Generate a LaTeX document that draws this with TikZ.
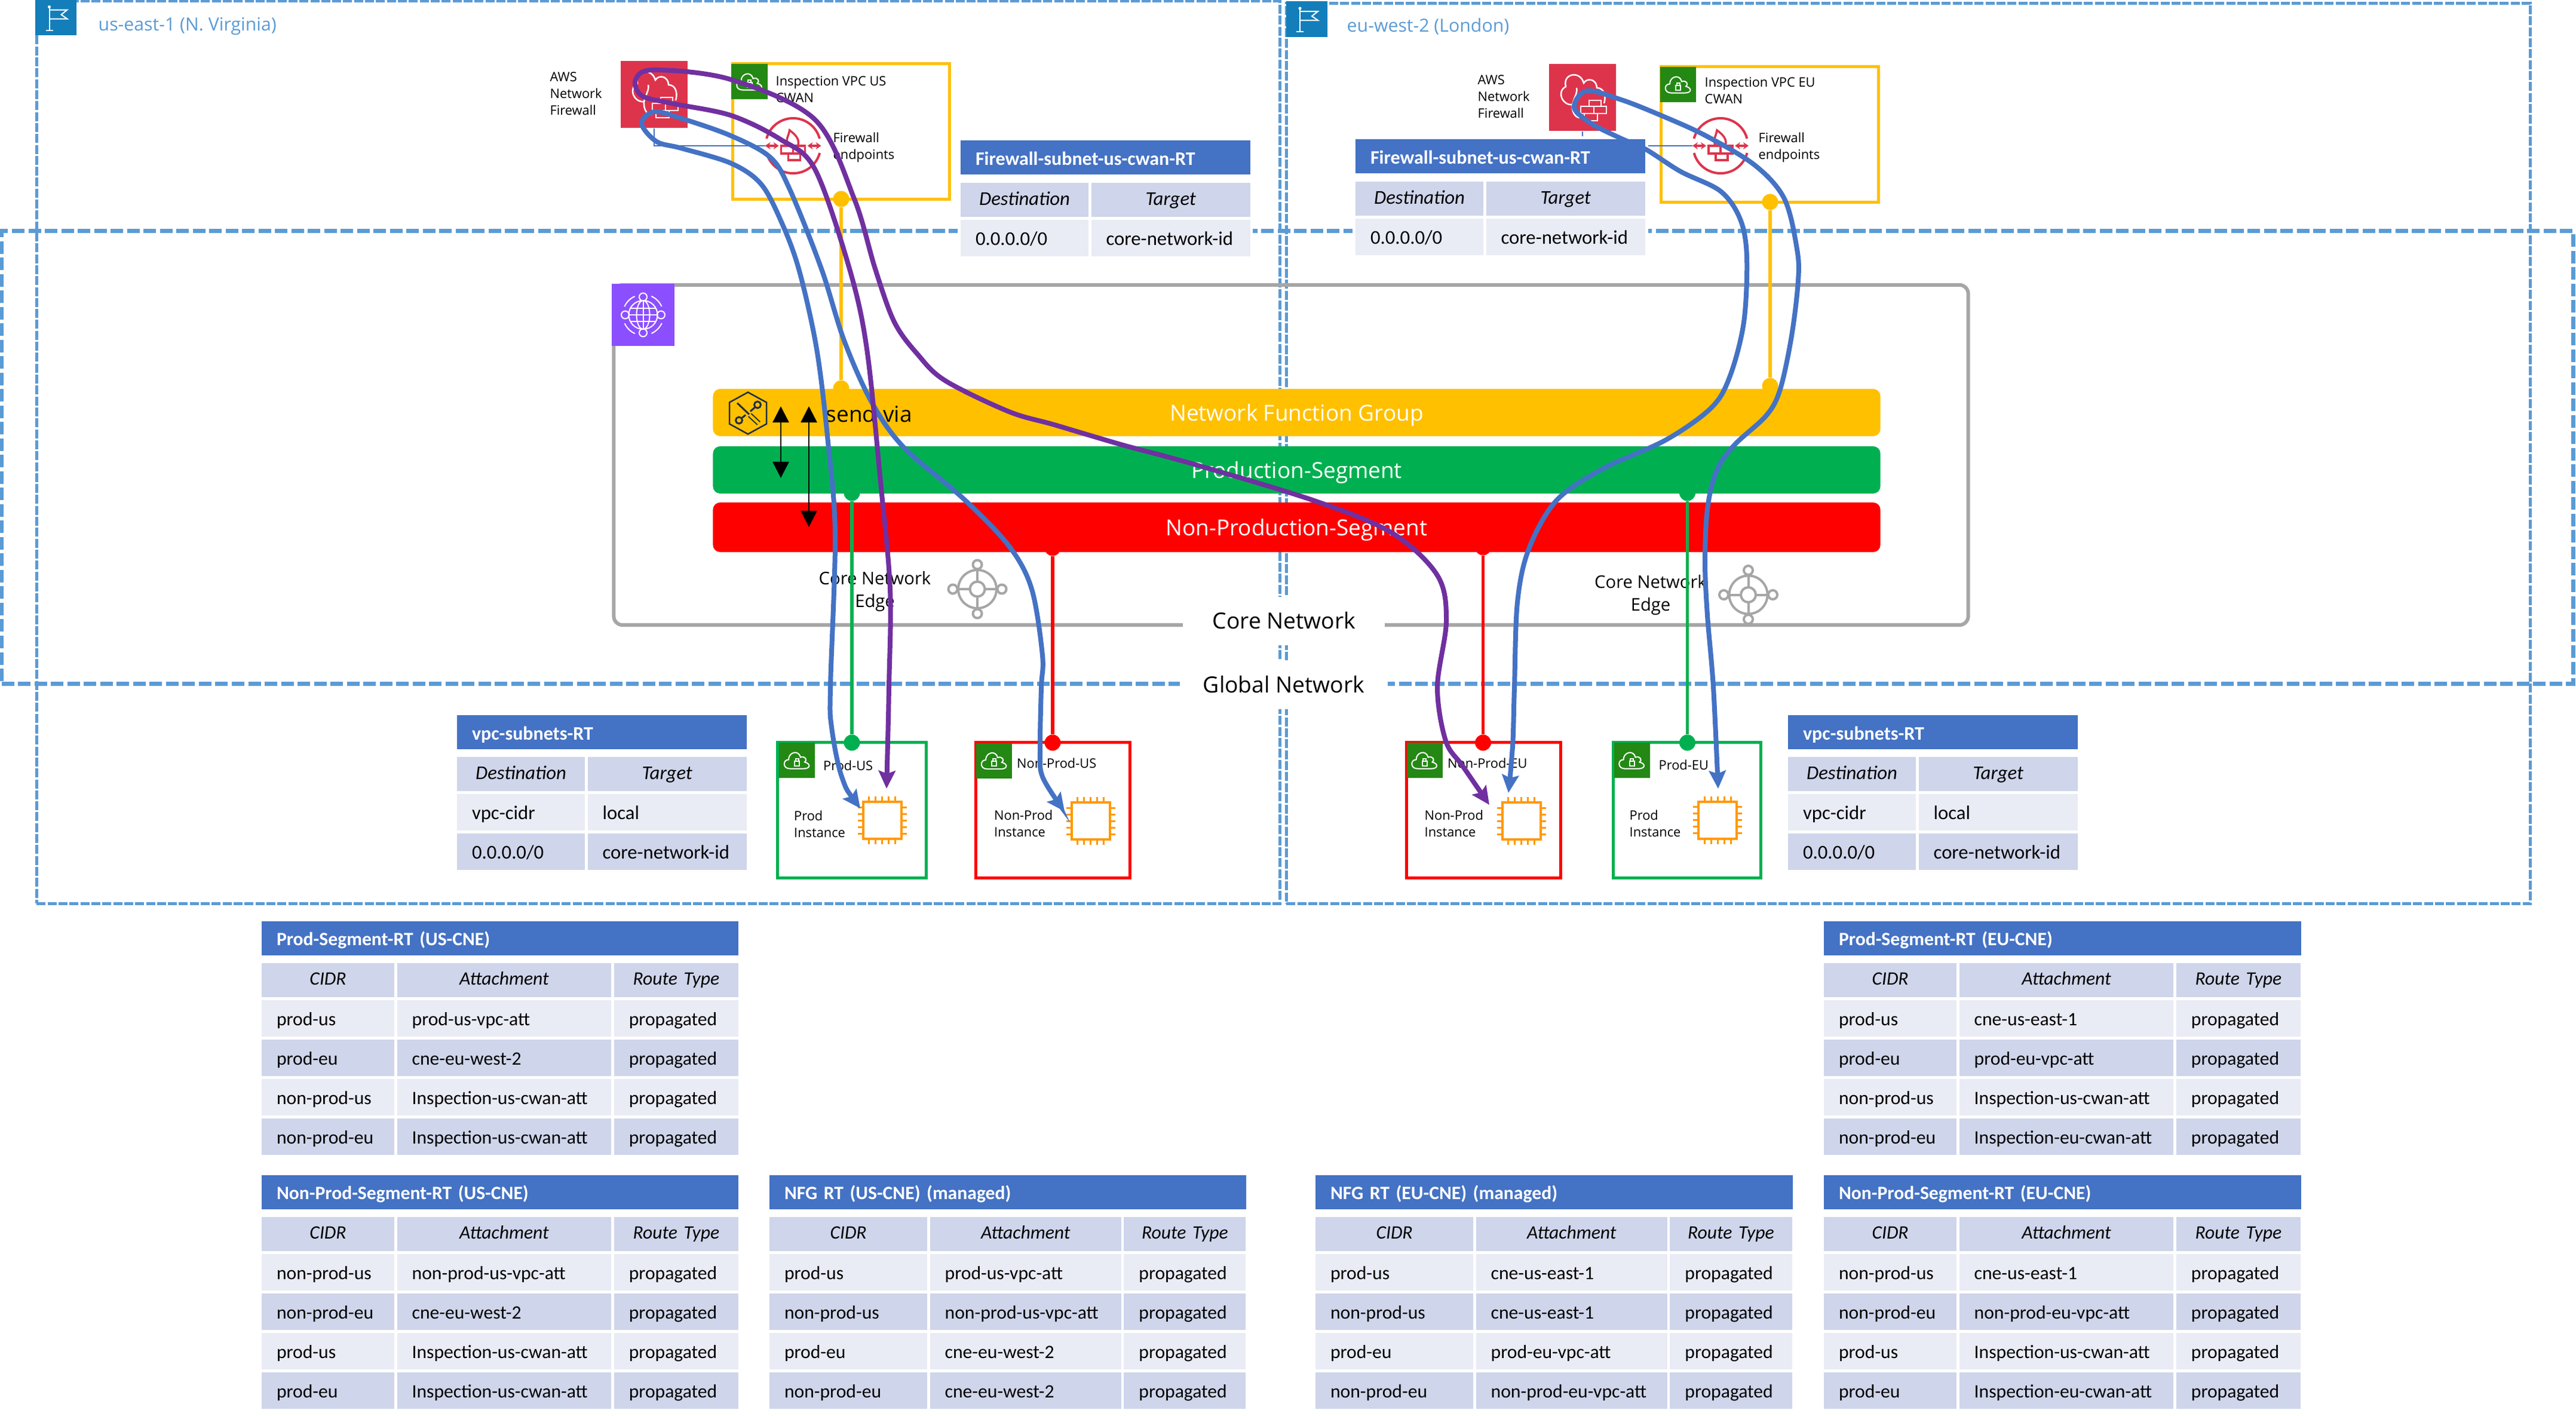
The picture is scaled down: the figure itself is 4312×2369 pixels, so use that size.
\documentclass[tikz,border=0pt]{standalone}
\usepackage{fontspec}
\setmainfont{Carlito}
\newfontfamily\awsfont{Open Sans}
\usetikzlibrary{positioning,arrows.meta}
\definecolor{dashblue}{HTML}{5B9BD5}
\definecolor{flagblue}{HTML}{147EBA}
\definecolor{fwred}{HTML}{DD344C}
\definecolor{tagreen}{HTML}{248814}
\definecolor{cwanpurple}{HTML}{8C4FFF}
\definecolor{coregray}{HTML}{A6A6A6}
\definecolor{nfgyellow}{HTML}{FFC000}
\definecolor{prodgreen}{HTML}{00B050}
\definecolor{nonprodred}{HTML}{FF0000}
\definecolor{chiporange}{HTML}{FF9900}
\definecolor{toolnavy}{HTML}{232F3E}
\definecolor{titleblue}{HTML}{4472C4}
\definecolor{rowdark}{HTML}{CFD5EA}
\definecolor{rowlight}{HTML}{E9EBF5}
\definecolor{routepurple}{HTML}{7030A0}
\tikzset{
	flagicon/.pic={
		\draw [white, line width=0.02cm] (-11,-17) -- (-11,21) (-17,21) -- (-5,21);
		\draw [white, line width=0.02cm] (-11,-13) -- (19,-13) -- (9,-5) -- (19,2) -- (-11,2);
		\fill [white] (-11,-18) circle [radius=0.025cm];
	},
	cloudlock/.pic={
		\draw [white, line width=0.02cm] (-12,14) .. controls (-24,14) and (-24,-1) .. (-14,-1) .. controls (-14,-14) and (3,-18) .. (6,-5) .. controls (14,-8) and (18,0) .. (13,3) .. controls (24,6) and (22,14) .. (12,14) -- cycle;
		\draw [white, line width=0.02cm] (-4,1) rectangle (4,9) (-2.5,1) -- (-2.5,-3) -- (2.5,-3) -- (2.5,1);
	},
	fwicon/.pic={
		\draw [white, line width=0.025cm] (-4,34) .. controls (-14,34) and (-18,22) .. (-17,12) .. controls (-34,14) and (-44,-10) .. (-28,-18) .. controls (-34,-40) and (-4,-46) .. (2,-24) .. controls (8,-34) and (24,-30) .. (24,-16) .. controls (36,-16) and (40,-2) .. (36,10);
		\draw [white, line width=0.025cm] (-17,12) .. controls (-14,0) and (-8,-8) .. (-10,-16);
		\draw [white, line width=0.025cm] (-3,15) rectangle (40,27) (19,15) -- (19,27) (11,5) rectangle (31,15) (3,27) rectangle (25,39);
	},
	endpointicon/.pic={
		\draw [fwred, line width=0.04cm] (44.4,-12) arc [start angle=15, end angle=165, radius=0.46cm];
		\draw [fwred, line width=0.04cm] (-44.4,12) arc [start angle=195, end angle=345, radius=0.46cm];
		\draw [fwred, line width=0.035cm, {Stealth[length=0.09cm,width=0.12cm]}-{Stealth[length=0.09cm,width=0.12cm]}] (-47,0) -- (-24,0);
		\draw [fwred, line width=0.035cm, {Stealth[length=0.09cm,width=0.12cm]}-{Stealth[length=0.09cm,width=0.12cm]}] (24,0) -- (47,0);
		\draw [fwred, line width=0.035cm] (-20,0) rectangle (20,13) (0,0) -- (0,13) (-8,13) rectangle (12,24);
		\draw [fwred, line width=0.035cm] (-8,0) .. controls (-14,-10) and (-8,-14) .. (-6,-26) .. controls (2,-20) and (12,-12) .. (8,0);
	},
	globeicon/.pic={
		\draw [white, line width=0.02cm] (0,0) circle [radius=0.24cm] (0,0) ellipse [x radius=0.11cm, y radius=0.24cm];
		\draw [white, line width=0.02cm] (-24,0) -- (24,0) (-21,-11) -- (21,-11) (-21,11) -- (21,11) (0,-24) -- (0,24);
		\draw [white, line width=0.02cm] (0,-30) circle [radius=0.065cm] (0,30) circle [radius=0.065cm] (-30,0) circle [radius=0.065cm] (30,0) circle [radius=0.065cm];
		\draw [white, line width=0.02cm] (31,-14) arc [start angle=24, end angle=66, radius=0.34cm];
		\draw [white, line width=0.02cm] (-14,-31) arc [start angle=114, end angle=156, radius=0.34cm];
		\draw [white, line width=0.02cm] (-31,14) arc [start angle=204, end angle=246, radius=0.34cm];
		\draw [white, line width=0.02cm] (14,31) arc [start angle=294, end angle=336, radius=0.34cm];
	},
	toolicon/.pic={
		\draw [toolnavy, line width=0.025cm] (0,-35) -- (31,-18) -- (31,18) -- (0,35) -- (-31,18) -- (-31,-18) -- cycle;
		\draw [toolnavy, line width=0.03cm] (-18,-17) -- (2,2);
		\draw [toolnavy, line width=0.02cm, double=nfgyellow, double distance=0.045cm] (3,3) -- (18,17);
		\draw [toolnavy, line width=0.03cm] (12,-10) -- (4,-3) (-4,3) -- (-10,8);
		\draw [toolnavy, line width=0.03cm] (16,-14) circle [radius=0.055cm] (-15,12) circle [radius=0.055cm];
	},
	chipicon/.pic={
		\foreach \k in {-22,-11,0,11,22} {
			\draw [chiporange, line width=0.03cm] (\k,-31) -- (\k,-40) (\k,31) -- (\k,40) (-32,\k) -- (-41,\k) (32,\k) -- (41,\k);
		}
		\draw [chiporange, fill=white, line width=0.04cm] (-32,-31) rectangle (32,31);
	},
	edgeicon/.pic={
		\draw [coregray, line width=0.04cm] (0,0) circle [radius=0.32cm] (0,0) circle [radius=0.125cm];
		\draw [coregray, line width=0.04cm] (0,-12.5) -- (0,-34) (0,12.5) -- (0,34) (-12.5,0) -- (-34,0) (12.5,0) -- (34,0);
		\draw [coregray, line width=0.04cm] (0,-41) circle [radius=0.075cm] (0,41) circle [radius=0.075cm] (-41,0) circle [radius=0.075cm] (41,0) circle [radius=0.075cm];
	}
}
\begin{document}
\begin{tikzpicture}[x=0.01cm, y=-0.01cm, node distance=0.045cm]
	% Styles for the nodes
	\tikzstyle{region} = [rectangle, inner sep=0, draw=dashblue, line width=0.05cm, dash pattern=on 0.15cm off 0.033cm]
	\tikzstyle{globalbox} = [rectangle, inner sep=0, draw=dashblue, line width=0.067cm, dash pattern=on 0.21cm off 0.065cm]
	\tikzstyle{corebox} = [rectangle, inner sep=0, rounded corners=0.15cm, draw=coregray, line width=0.06cm]
	\tikzstyle{bar} = [rectangle, rounded corners=0.12cm, minimum width=19.53cm, text height=0.36cm, text depth=0.08cm, text=white, font=\fontsize{10.5}{12}\selectfont\awsfont]
	\tikzstyle{fwsquare} = [rectangle, fill=fwred, minimum width=1.12cm, minimum height=1.12cm]
	\tikzstyle{inspectbox} = [rectangle, inner sep=0, draw=nfgyellow, line width=0.05cm, minimum width=3.63cm, minimum height=2.27cm]
	\tikzstyle{vpcbox} = [rectangle, inner sep=0, line width=0.05cm, minimum height=2.27cm]
	\tikzstyle{tag} = [rectangle, inner sep=0, fill=tagreen, minimum width=0.6cm, minimum height=0.59cm]
	\tikzstyle{flagtag} = [rectangle, inner sep=0, fill=flagblue, minimum width=0.69cm, minimum height=0.59cm]
	\tikzstyle{label} = [anchor=west, inner sep=0, align=left, font=\fontsize{6.2}{8}\selectfont\awsfont]
	\tikzstyle{regionlabel} = [anchor=west, inner sep=0, text=dashblue, font=\fontsize{8.6}{11}\selectfont\awsfont]
	\tikzstyle{edgelabel} = [inner sep=0, align=center, font=\fontsize{8.3}{10.8}\selectfont\awsfont]
	\tikzstyle{netlabel} = [inner sep=0, fill=white, text height=0.34cm, text depth=0.08cm, font=\fontsize{10.6}{12}\selectfont\awsfont]
	\tikzstyle{dot} = [circle, inner sep=0, minimum size=0.27cm]
	\tikzstyle{rtcell} = [rectangle, outer sep=0, inner xsep=0.25cm, inner ysep=0, minimum height=0.615cm, text height=0.31cm, text depth=0.07cm, align=left, font=\fontsize{9}{11}\selectfont]
	\tikzstyle{rtlight} = [rtcell, fill=rowlight]
	\tikzstyle{rtdark} = [rtcell, fill=rowdark]
	\tikzstyle{rthead} = [rtcell, fill=rowdark, minimum height=0.57cm, text height=0.23cm, align=center, font=\fontsize{9}{11}\selectfont\itshape]
	\tikzstyle{rttitle} = [rtcell, anchor=north west, fill=titleblue, text=white, minimum height=0.565cm, text height=0.31cm, text width=7.48cm, font=\fontsize{9}{11}\selectfont\bfseries]
	\tikzstyle{fwlight} = [rtlight, font=\fontsize{9.3}{11}\selectfont]
	\tikzstyle{fwdark} = [rtdark, font=\fontsize{9.3}{11}\selectfont]
	\tikzstyle{fwhead} = [rthead, text height=0.25cm, font=\fontsize{9.3}{11}\selectfont\itshape]
	\tikzstyle{fwtitle} = [rttitle, minimum height=0.57cm, text height=0.33cm, text width=4.345cm, font=\fontsize{9.1}{11}\selectfont\bfseries]
	\tikzstyle{segA} = [text width=1.72cm]
	\tikzstyle{segB} = [text width=3.085cm]
	\tikzstyle{segC} = [text width=1.58cm]
	\tikzstyle{nfgA} = [text width=2.14cm]
	\tikzstyle{nfgB} = [text width=2.70cm]
	\tikzstyle{nfgC} = [text width=1.54cm]
	\tikzstyle{fwA} = [text width=1.64cm]
	\tikzstyle{fwB} = [text width=2.16cm]
	\tikzstyle{bluecurve} = [line width=0.08cm, color=titleblue, {Stealth[length=0.3cm,width=0.28cm,inset=0.05cm]}-{Stealth[length=0.3cm,width=0.28cm,inset=0.05cm]}]
	\tikzstyle{purplecurve} = [line width=0.08cm, color=routepurple, {Stealth[length=0.3cm,width=0.28cm,inset=0.05cm]}-{Stealth[length=0.3cm,width=0.28cm,inset=0.05cm]}]
	\tikzstyle{sendarrow} = [line width=0.025cm, {Triangle[length=0.27cm,width=0.27cm]}-{Triangle[length=0.27cm,width=0.27cm]}]
	\tikzstyle{attach} = [line width=0.055cm]
	\useasboundingbox (0,0) rectangle (4312,2369);
	% Boxes
	\node (usRegion) [region, minimum width=20.8cm, minimum height=15.1cm] at (1102,757) {};
	\node (euRegion) [region, minimum width=20.81cm, minimum height=15.06cm] at (3194.5,759) {};
	\node (globalNet) [globalbox, minimum width=43.02cm, minimum height=7.57cm] at (2155,765.5) {};
	\node (coreNet) [corebox, minimum width=22.66cm, minimum height=5.69cm] at (2161,761.5) {};
	\node (coreLabel) [netlabel, minimum width=3.38cm, minimum height=0.81cm] at (2149.3,1039.5) {Core Network};
	\node (globalLabel) [netlabel, minimum width=3.48cm, minimum height=0.815cm] at (2149,1146) {Global Network};
	% Region headings
	\node (usFlag) [flagtag] at (93.5,29.5) {};
	\node (euFlag) [flagtag] at (2187,32) {};
	\pic at (usFlag) {flagicon};
	\pic at (euFlag) {flagicon};
	\node (usName) [regionlabel] at (164,44) {us-east-1 (N. Virginia)};
	\node (euName) [regionlabel] at (2254,44) {eu-west-2 (London)};
	% Segment bars
	\node (nfgBar) [bar, fill=nfgyellow, minimum height=0.79cm] at (2170.5,690.5) {Network Function Group};
	\node (prodBar) [bar, fill=prodgreen, minimum height=0.79cm] at (2170.5,786.5) {Production-Segment};
	\node (nonprodBar) [bar, fill=nonprodred, minimum height=0.83cm] at (2170.5,882.5) {Non-Production-Segment};
	\node (cwanIcon) [rectangle, inner sep=0, fill=cwanpurple, minimum width=1.04cm, minimum height=1.04cm] at (1076.5,527) {};
	\pic at (cwanIcon) {globeicon};
	\node (nfgTool) [inner sep=0, minimum size=0.7cm] at (1252,691.5) {};
	\pic at (nfgTool) {toolicon};
	\node (sendVia) [anchor=west, inner sep=0, font=\fontsize{10.5}{12}\selectfont\awsfont] at (1382,693) {send-via};
	\coordinate (sendA1) at (1307,680);
	\coordinate (sendA2) at (1307,800);
	\coordinate (sendB1) at (1354,680);
	\coordinate (sendB2) at (1354,882);
	\draw [sendarrow] (sendA1) -- (sendA2);
	\draw [sendarrow] (sendB1) -- (sendB2);
	\node (edgeUsIcon) [inner sep=0, minimum size=0.64cm] at (1636,986) {};
	\node (edgeEuIcon) [inner sep=0, minimum size=0.64cm] at (2926.5,995.5) {};
	\pic at (edgeUsIcon) {edgeicon};
	\pic at (edgeEuIcon) {edgeicon};
	\node (edgeUs) [edgelabel] at (1464.5,990) {Core Network\\Edge};
	\node (edgeEu) [edgelabel] at (2763,996) {Core Network\\Edge};
	% Firewalls and inspection VPCs
	\node (fwUs) [fwsquare] at (1095,158) {};
	\node (fwEu) [fwsquare] at (2649,163) {};
	\pic at (fwUs) {fwicon};
	\pic at (fwEu) {fwicon};
	\node (fwUsName) [label] at (920,157) {AWS\\Network\\Firewall};
	\node (fwEuName) [label] at (2473,162) {AWS\\Network\\Firewall};
	\node (inspUs) [inspectbox] at (1408,220) {};
	\node (inspEu) [inspectbox] at (2962.5,225) {};
	\node (inspUsTag) [tag] at (1254.5,136.5) {};
	\node (inspEuTag) [tag] at (2809,141.5) {};
	\pic at (inspUsTag) {cloudlock};
	\pic at (inspEuTag) {cloudlock};
	\node (inspUsName) [label] at (1298,150) {Inspection VPC US\\CWAN};
	\node (inspEuName) [label] at (2853,152) {Inspection VPC EU\\CWAN};
	\node (epUs) [inner sep=0, minimum size=0.92cm] at (1327.6,244) {};
	\node (epEu) [inner sep=0, minimum size=0.92cm] at (2880,244) {};
	\pic at (epUs) {endpointicon};
	\pic at (epEu) {endpointicon};
	\node (epUsName) [label] at (1394,246.5) {Firewall\\endpoints};
	\node (epEuName) [label] at (2943,246.5) {Firewall\\endpoints};
	\draw [titleblue, line width=0.02cm] (fwUs.south) |- (epUs.west);
	\draw [titleblue, line width=0.02cm] (fwEu.south) |- (epEu.west);
	% Firewall-subnet tables
	\fill [white] (1603,230) rectangle (2097,435);
	\fill [white] (2264,228) rectangle (2759,433);
	\node (fu) [fwtitle] at (1608,235) {Firewall-subnet-us-cwan-RT};
	\node (fuh1) [fwhead, fwA, below right=0.14cm and 0cm of fu.south west] {Destination};
	\node (fuh2) [fwhead, fwB, right=of fuh1] {Target};
	\node (fua1) [fwlight, fwA, below=of fuh1] {0.0.0.0/0};
	\node (fua2) [fwlight, fwB, right=of fua1] {core-network-id};
	\node (fe) [fwtitle] at (2269,233) {Firewall-subnet-us-cwan-RT};
	\node (feh1) [fwhead, fwA, below right=0.14cm and 0cm of fe.south west] {Destination};
	\node (feh2) [fwhead, fwB, right=of feh1] {Target};
	\node (fea1) [fwlight, fwA, below=of feh1] {0.0.0.0/0};
	\node (fea2) [fwlight, fwB, right=of fea1] {core-network-id};
	% VPC boxes
	\node (prodUs) [vpcbox, draw=prodgreen, minimum width=2.48cm] at (1426,1356) {};
	\node (nonprodUs) [vpcbox, draw=nonprodred, minimum width=2.58cm] at (1762.5,1356) {};
	\node (nonprodEu) [vpcbox, draw=nonprodred, minimum width=2.58cm] at (2483.5,1356) {};
	\node (prodEu) [vpcbox, draw=prodgreen, minimum width=2.47cm] at (2824,1356) {};
	\node (prodUsTag) [tag] at (1334,1272.5) {};
	\node (nonprodUsTag) [tag] at (1664,1273) {};
	\node (nonprodEuTag) [tag] at (2384.5,1272.5) {};
	\node (prodEuTag) [tag] at (2731.5,1272.5) {};
	\pic at (prodUsTag) {cloudlock};
	\pic at (nonprodUsTag) {cloudlock};
	\pic at (nonprodEuTag) {cloudlock};
	\pic at (prodEuTag) {cloudlock};
	\node (prodUsName) [label] at (1377.5,1281) {Prod-US};
	\node (nonprodUsName) [label] at (1701.5,1277) {Non-Prod-US};
	\node (nonprodEuName) [label] at (2422.5,1277) {Non-Prod-EU};
	\node (prodEuName) [label] at (2776,1280) {Prod-EU};
	\node (prodUsInst) [label] at (1328.5,1379.5) {Prod\\Instance};
	\node (nonprodUsInst) [label] at (1663.5,1378.5) {Non-Prod\\Instance};
	\node (nonprodEuInst) [label] at (2384,1378.5) {Non-Prod\\Instance};
	\node (prodEuInst) [label] at (2727,1378.5) {Prod\\Instance};
	\node (prodUsChip) [inner sep=0, minimum size=0.64cm] at (1476.5,1373) {};
	\node (nonprodUsChip) [inner sep=0, minimum size=0.64cm] at (1825.5,1374) {};
	\node (nonprodEuChip) [inner sep=0, minimum size=0.64cm] at (2546.5,1374) {};
	\node (prodEuChip) [inner sep=0, minimum size=0.64cm] at (2875,1372.5) {};
	\pic at (prodUsChip) {chipicon};
	\pic at (nonprodUsChip) {chipicon};
	\pic at (nonprodEuChip) {chipicon};
	\pic at (prodEuChip) {chipicon};
	% Attachments
	\node (yUsA) [dot, fill=nfgyellow] at (1408,333) {};
	\node (yUsB) [dot, fill=nfgyellow] at (1408,650) {};
	\node (yEuA) [dot, fill=nfgyellow] at (2963,338) {};
	\node (yEuB) [dot, fill=nfgyellow] at (2963,646) {};
	\node (gUsA) [dot, fill=prodgreen] at (1426,825) {};
	\node (gUsB) [dot, fill=prodgreen] at (1426,1243) {};
	\node (rUsA) [dot, fill=nonprodred] at (1762,917) {};
	\node (rUsB) [dot, fill=nonprodred] at (1762,1243) {};
	\node (rEuA) [dot, fill=nonprodred] at (2482.5,916) {};
	\node (rEuB) [dot, fill=nonprodred] at (2482.5,1243) {};
	\node (gEuA) [dot, fill=prodgreen] at (2824.5,825) {};
	\node (gEuB) [dot, fill=prodgreen] at (2824.5,1243) {};
	\draw [attach, nfgyellow] (yUsA) -- (yUsB);
	\draw [attach, nfgyellow] (yEuA) -- (yEuB);
	\draw [attach, prodgreen] (gUsA) -- (gUsB);
	\draw [attach, nonprodred] (rUsA) -- (rUsB);
	\draw [attach, nonprodred] (rEuA) -- (rEuB);
	\draw [attach, prodgreen] (gEuA) -- (gEuB);
	% vpc-subnets tables
	\node (vu) [fwtitle] at (765,1197) {vpc-subnets-RT};
	\node (vuh1) [fwhead, fwA, below right=0.13cm and 0cm of vu.south west] {Destination};
	\node (vuh2) [fwhead, fwB, right=of vuh1] {Target};
	\node (vua1) [fwlight, fwA, below=of vuh1] {vpc-cidr};
	\node (vua2) [fwlight, fwB, right=of vua1] {local};
	\node (vub1) [fwdark, fwA, below=of vua1] {0.0.0.0/0};
	\node (vub2) [fwdark, fwB, right=of vub1] {core-network-id};
	\node (ve) [fwtitle] at (2993,1197) {vpc-subnets-RT};
	\node (veh1) [fwhead, fwA, below right=0.13cm and 0cm of ve.south west] {Destination};
	\node (veh2) [fwhead, fwB, right=of veh1] {Target};
	\node (vea1) [fwlight, fwA, below=of veh1] {vpc-cidr};
	\node (vea2) [fwlight, fwB, right=of vea1] {local};
	\node (veb1) [fwdark, fwA, below=of vea1] {0.0.0.0/0};
	\node (veb2) [fwdark, fwB, right=of veb1] {core-network-id};
	% Prod-Segment-RT (US-CNE)
	\node (pu) [rttitle] at (438,1542) {Prod-Segment-RT (US-CNE)};
	\node (puh1) [rthead, segA, below right=0.135cm and 0cm of pu.south west] {CIDR};
	\node (puh2) [rthead, segB, right=of puh1] {Attachment};
	\node (puh3) [rthead, segC, right=of puh2] {Route Type};
	\node (pua1) [rtlight, segA, below=of puh1] {prod-us};
	\node (pua2) [rtlight, segB, right=of pua1] {prod-us-vpc-att};
	\node (pua3) [rtlight, segC, right=of pua2] {propagated};
	\node (pub1) [rtdark, segA, below=of pua1] {prod-eu};
	\node (pub2) [rtdark, segB, right=of pub1] {cne-eu-west-2};
	\node (pub3) [rtdark, segC, right=of pub2] {propagated};
	\node (puc1) [rtlight, segA, below=of pub1] {non-prod-us};
	\node (puc2) [rtlight, segB, right=of puc1] {Inspection-us-cwan-att};
	\node (puc3) [rtlight, segC, right=of puc2] {propagated};
	\node (pud1) [rtdark, segA, below=of puc1] {non-prod-eu};
	\node (pud2) [rtdark, segB, right=of pud1] {Inspection-us-cwan-att};
	\node (pud3) [rtdark, segC, right=of pud2] {propagated};
	% Non-Prod-Segment-RT (US-CNE)
	\node (nu) [rttitle] at (438,1967) {Non-Prod-Segment-RT (US-CNE)};
	\node (nuh1) [rthead, segA, below right=0.135cm and 0cm of nu.south west] {CIDR};
	\node (nuh2) [rthead, segB, right=of nuh1] {Attachment};
	\node (nuh3) [rthead, segC, right=of nuh2] {Route Type};
	\node (nua1) [rtlight, segA, below=of nuh1] {non-prod-us};
	\node (nua2) [rtlight, segB, right=of nua1] {non-prod-us-vpc-att};
	\node (nua3) [rtlight, segC, right=of nua2] {propagated};
	\node (nub1) [rtdark, segA, below=of nua1] {non-prod-eu};
	\node (nub2) [rtdark, segB, right=of nub1] {cne-eu-west-2};
	\node (nub3) [rtdark, segC, right=of nub2] {propagated};
	\node (nuc1) [rtlight, segA, below=of nub1] {prod-us};
	\node (nuc2) [rtlight, segB, right=of nuc1] {Inspection-us-cwan-att};
	\node (nuc3) [rtlight, segC, right=of nuc2] {propagated};
	\node (nud1) [rtdark, segA, below=of nuc1] {prod-eu};
	\node (nud2) [rtdark, segB, right=of nud1] {Inspection-us-cwan-att};
	\node (nud3) [rtdark, segC, right=of nud2] {propagated};
	% NFG RT (US-CNE) (managed)
	\node (gu) [rttitle] at (1288,1967) {NFG RT (US-CNE) (managed)};
	\node (guh1) [rthead, nfgA, below right=0.135cm and 0cm of gu.south west] {CIDR};
	\node (guh2) [rthead, nfgB, right=of guh1] {Attachment};
	\node (guh3) [rthead, nfgC, right=of guh2] {Route Type};
	\node (gua1) [rtlight, nfgA, below=of guh1] {prod-us};
	\node (gua2) [rtlight, nfgB, right=of gua1] {prod-us-vpc-att};
	\node (gua3) [rtlight, nfgC, right=of gua2] {propagated};
	\node (gub1) [rtdark, nfgA, below=of gua1] {non-prod-us};
	\node (gub2) [rtdark, nfgB, right=of gub1] {non-prod-us-vpc-att};
	\node (gub3) [rtdark, nfgC, right=of gub2] {propagated};
	\node (guc1) [rtlight, nfgA, below=of gub1] {prod-eu};
	\node (guc2) [rtlight, nfgB, right=of guc1] {cne-eu-west-2};
	\node (guc3) [rtlight, nfgC, right=of guc2] {propagated};
	\node (gud1) [rtdark, nfgA, below=of guc1] {non-prod-eu};
	\node (gud2) [rtdark, nfgB, right=of gud1] {cne-eu-west-2};
	\node (gud3) [rtdark, nfgC, right=of gud2] {propagated};
	% NFG RT (EU-CNE) (managed)
	\node (ge) [rttitle] at (2202,1967) {NFG RT (EU-CNE) (managed)};
	\node (geh1) [rthead, nfgA, below right=0.135cm and 0cm of ge.south west] {CIDR};
	\node (geh2) [rthead, nfgB, right=of geh1] {Attachment};
	\node (geh3) [rthead, nfgC, right=of geh2] {Route Type};
	\node (gea1) [rtlight, nfgA, below=of geh1] {prod-us};
	\node (gea2) [rtlight, nfgB, right=of gea1] {cne-us-east-1};
	\node (gea3) [rtlight, nfgC, right=of gea2] {propagated};
	\node (geb1) [rtdark, nfgA, below=of gea1] {non-prod-us};
	\node (geb2) [rtdark, nfgB, right=of geb1] {cne-us-east-1};
	\node (geb3) [rtdark, nfgC, right=of geb2] {propagated};
	\node (gec1) [rtlight, nfgA, below=of geb1] {prod-eu};
	\node (gec2) [rtlight, nfgB, right=of gec1] {prod-eu-vpc-att};
	\node (gec3) [rtlight, nfgC, right=of gec2] {propagated};
	\node (ged1) [rtdark, nfgA, below=of gec1] {non-prod-eu};
	\node (ged2) [rtdark, nfgB, right=of ged1] {non-prod-eu-vpc-att};
	\node (ged3) [rtdark, nfgC, right=of ged2] {propagated};
	% Prod-Segment-RT (EU-CNE)
	\node (pe) [rttitle] at (3053,1542) {Prod-Segment-RT (EU-CNE)};
	\node (peh1) [rthead, segA, below right=0.135cm and 0cm of pe.south west] {CIDR};
	\node (peh2) [rthead, segB, right=of peh1] {Attachment};
	\node (peh3) [rthead, segC, right=of peh2] {Route Type};
	\node (pea1) [rtlight, segA, below=of peh1] {prod-us};
	\node (pea2) [rtlight, segB, right=of pea1] {cne-us-east-1};
	\node (pea3) [rtlight, segC, right=of pea2] {propagated};
	\node (peb1) [rtdark, segA, below=of pea1] {prod-eu};
	\node (peb2) [rtdark, segB, right=of peb1] {prod-eu-vpc-att};
	\node (peb3) [rtdark, segC, right=of peb2] {propagated};
	\node (pec1) [rtlight, segA, below=of peb1] {non-prod-us};
	\node (pec2) [rtlight, segB, right=of pec1] {Inspection-us-cwan-att};
	\node (pec3) [rtlight, segC, right=of pec2] {propagated};
	\node (ped1) [rtdark, segA, below=of pec1] {non-prod-eu};
	\node (ped2) [rtdark, segB, right=of ped1] {Inspection-eu-cwan-att};
	\node (ped3) [rtdark, segC, right=of ped2] {propagated};
	% Non-Prod-Segment-RT (EU-CNE)
	\node (ne) [rttitle] at (3053,1967) {Non-Prod-Segment-RT (EU-CNE)};
	\node (neh1) [rthead, segA, below right=0.135cm and 0cm of ne.south west] {CIDR};
	\node (neh2) [rthead, segB, right=of neh1] {Attachment};
	\node (neh3) [rthead, segC, right=of neh2] {Route Type};
	\node (nea1) [rtlight, segA, below=of neh1] {non-prod-us};
	\node (nea2) [rtlight, segB, right=of nea1] {cne-us-east-1};
	\node (nea3) [rtlight, segC, right=of nea2] {propagated};
	\node (neb1) [rtdark, segA, below=of nea1] {non-prod-eu};
	\node (neb2) [rtdark, segB, right=of neb1] {non-prod-eu-vpc-att};
	\node (neb3) [rtdark, segC, right=of neb2] {propagated};
	\node (nec1) [rtlight, segA, below=of neb1] {prod-us};
	\node (nec2) [rtlight, segB, right=of nec1] {Inspection-us-cwan-att};
	\node (nec3) [rtlight, segC, right=of nec2] {propagated};
	\node (ned1) [rtdark, segA, below=of nec1] {prod-eu};
	\node (ned2) [rtdark, segB, right=of ned1] {Inspection-eu-cwan-att};
	\node (ned3) [rtdark, segC, right=of ned2] {propagated};
	% Traffic paths
	\coordinate (tipProdUsP) at (1484,1320);
	\coordinate (tipNonprodEuP) at (2493,1347);
	\coordinate (tipProdUsB) at (1440,1353);
	\coordinate (tipNonprodUsB) at (1782,1358);
	\coordinate (tipNonprodEuB) at (2525,1327);
	\coordinate (tipProdEuB) at (2876,1320);
	\draw [bluecurve] plot [smooth, tension=0.55] coordinates {(tipProdUsB) (1409,1300) (1392,1217) (1390,1150) (1398,896) (1386,740) (1367,584) (1337,450) (1306,367) (1273,307) (1223,273) (1140,248) (1099,237) (1074,207) (1095,187) (1140,198) (1223,227) (1289,263) (1322,317) (1375,450) (1413,570) (1459,673) (1513,749) (1612,834) (1689,914) (1727,986) (1745,1097) (1743,1150) (1741,1250) (1745,1300) (tipNonprodUsB)};
	\draw [purplecurve] plot [smooth, tension=0.55] coordinates {(tipProdUsP) (1488,1150) (1490,986) (1474,807) (1451,584) (1422,450) (1364,283) (1306,233) (1223,193) (1124,173) (1074,160) (1064,133) (1095,117) (1223,133) (1364,200) (1430,333) (1465,450) (1497,539) (1536,593) (1582,637) (1689,689) (1765,711) (1880,745) (1995,776) (2200,838) (2330,892) (2406,963) (2421,1039) (2406,1150) (2420,1240) (2449,1283) (tipNonprodEuP)};
	\draw [bluecurve] plot [smooth, tension=0.55] coordinates {(tipNonprodEuB) (2532,1250) (2535,1150) (2540,1008) (2559,919) (2605,838) (2682,785) (2789,736) (2865,682) (2896,629) (2919,539) (2924,430) (2913,367) (2880,320) (2813,287) (2755,250) (2714,232) (2664,207) (2635,180) (2656,152) (2714,167) (2780,193) (2855,227) (2938,277) (2987,333) (3008,417) (3010,470) (2999,562) (2980,651) (2957,695) (2903,745) (2873,789) (2858,852) (2854,941) (2858,1030) (2868,1150) (tipProdEuB)};
\end{tikzpicture}
\end{document}
